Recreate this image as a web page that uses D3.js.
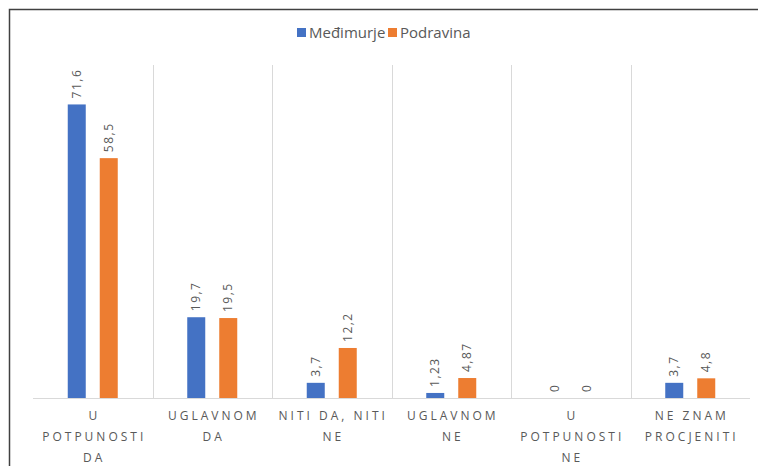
<!doctype html>
<html>
<head>
<meta charset="utf-8">
<style>
    body { margin: 0; background: #fff; }
    text { font-family: "Open Sans", "Noto Sans", sans-serif; fill: #595959; }
    .cat { font-size: 12px; letter-spacing: 3px; }
    .val { font-size: 12px; letter-spacing: 1.5px; }
    .leg { font-size: 15px; }
</style>
<script src="https://d3js.org/d3.v7.min.js"></script>
</head>
<body>
<svg width="758" height="466"></svg>
<script>
    // data
    var categories = ["u_potpunosti_da", "uglavnom_da", "niti_da_niti_ne", "uglavnom_ne", "u_potpunosti_ne", "ne_znam"];
    var categoryLabels = [
        ["U", "POTPUNOSTI", "DA"],
        ["UGLAVNOM", "DA"],
        ["NITI DA, NITI", "NE"],
        ["UGLAVNOM", "NE"],
        ["U", "POTPUNOSTI", "NE"],
        ["NE ZNAM", "PROCJENITI"]
    ];
    var seriesNames = ["Međimurje", "Podravina"];
    var medimurje = [71.6, 19.7, 3.7, 1.23, 0, 3.7];
    var podravina = [58.5, 19.5, 12.2, 4.87, 0, 4.8];
    var colors = ["#4472C4", "#ED7D31"];

    var series = [medimurje, podravina];

    var svg = d3.select("svg");

    // outer frame (top + left only)
    svg.append("path")
        .attr("d", "M9.5,466 V9.5 H758")
        .attr("fill", "none")
        .attr("stroke", "#404040")
        .attr("stroke-width", 1.5);

    var plotLeft = 33, plotRight = 750, plotTop = 70, plotBottom = 398;

    var x = d3.scaleBand().domain(categories).range([plotLeft, plotRight]);
    var y = d3.scaleLinear().domain([0, 80]).range([plotBottom, plotTop]);

    var barW = 18, gap = 14;

    // separators between categories
    svg.selectAll(".sep")
        .data(categories.slice(1))
        .enter().append("line")
        .attr("x1", function(d) { return Math.round(x(d)) + 0.5; })
        .attr("x2", function(d) { return Math.round(x(d)) + 0.5; })
        .attr("y1", 65)
        .attr("y2", plotBottom)
        .attr("stroke", "#d9d9d9")
        .attr("stroke-width", 1);

    // baseline
    svg.append("line")
        .attr("x1", plotLeft).attr("x2", plotRight)
        .attr("y1", plotBottom + 0.5).attr("y2", plotBottom + 0.5)
        .attr("stroke", "#d9d9d9");

    series.forEach(function(vals, s) {
        var off = s === 0 ? -(gap / 2 + barW) : gap / 2;
        var g = svg.append("g");
        g.selectAll("rect")
            .data(vals)
            .enter().append("rect")
            .attr("x", function(d, i) { return x(categories[i]) + x.bandwidth() / 2 + off; })
            .attr("y", function(d) { return y(d); })
            .attr("width", barW)
            .attr("height", function(d) { return plotBottom - y(d); })
            .attr("fill", colors[s]);

        g.selectAll("text")
            .data(vals)
            .enter().append("text")
            .attr("class", "val")
            .attr("transform", function(d, i) {
                var cx = x(categories[i]) + x.bandwidth() / 2 + off + barW / 2;
                return "translate(" + (cx + 4) + "," + (y(d) - 6) + ") rotate(-90)";
            })
            .text(function(d) { return String(d).replace(".", ","); });
    });

    // category labels
    categoryLabels.forEach(function(lines, i) {
        var t = svg.append("text")
            .attr("class", "cat")
            .attr("text-anchor", "middle");
        lines.forEach(function(l, j) {
            t.append("tspan")
                .attr("x", x(categories[i]) + x.bandwidth() / 2 + 1.5)
                .attr("y", 420 + j * 21)
                .text(l);
        });
    });

    // legend
    var legX = [297, 388];
    seriesNames.forEach(function(n, s) {
        svg.append("rect")
            .attr("x", legX[s]).attr("y", 28)
            .attr("width", 9).attr("height", 9)
            .attr("fill", colors[s]);
        svg.append("text")
            .attr("class", "leg")
            .attr("x", legX[s] + 12).attr("y", 38)
            .text(n);
    });
</script>
</body>
</html>
